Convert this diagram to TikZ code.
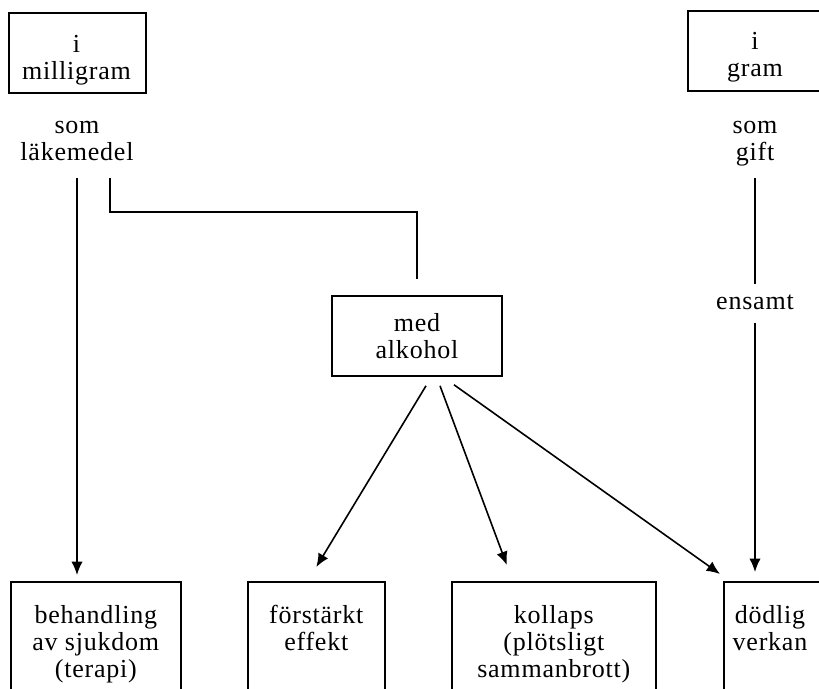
\documentclass[tikz,border=0pt]{standalone}
\usepackage{fontspec}
\setmainfont[LetterSpace=3]{Liberation Serif}
\usetikzlibrary{arrows.meta,calc}
\begin{document}
\begin{tikzpicture}[x=0.75pt,y=-0.75pt,
  every node/.style={font=\fontsize{19.5}{20.25}\selectfont},
  box/.style={draw, line width=1.2pt, inner sep=0pt, align=center},
  txt/.style={inner sep=0pt, align=center},
  conn/.style={line width=1.2pt},
  arr/.style={conn, -{Latex[length=10pt,width=8.5pt]}}]
\useasboundingbox (0,0) rectangle (819,689);
\clip (0,0) rectangle (819,689);
% top boxes and labels
\node[box, anchor=north west, minimum width=102.75pt, minimum height=60pt] (mg) at (8,12) {};
\node[txt, anchor=north] (mgt) at (76.5,35) {i\\milligram};
\node[box, anchor=north west, minimum width=112pt, minimum height=60pt] (gr) at (687,10) {};
\node[txt, anchor=north] (grt) at (755,32) {i\\gram};
\node[txt, anchor=north] (slm) at (77,121) {som\\läkemedel};
\node[txt, anchor=north] (sg) at (755,121) {som\\gift};
\node[txt, anchor=base] (ens) at (755,309) {ensamt};
\node[box, minimum width=127.5pt, minimum height=60pt] (med) at (417,336) {med\\alkohol};
% bottom boxes
\node[box, anchor=north west, minimum width=127.5pt, minimum height=105pt] (b1) at (10,581) {};
\node[box, anchor=north west, minimum width=102.75pt, minimum height=105pt] (b2) at (247,581) {};
\node[box, anchor=north west, minimum width=153pt, minimum height=105pt] (b3) at (451,581) {};
\node[box, anchor=north west, minimum width=105pt, minimum height=105pt] (b4) at (723,581) {};
\node[txt, anchor=north] (t1) at ([yshift=-18pt]b1.north) {behandling\\av sjukdom\\(terapi)};
\node[txt, anchor=north] (t2) at ([yshift=-18pt]b2.north) {förstärkt\\effekt};
\node[txt, anchor=north] (t3) at ([yshift=-18pt]b3.north) {kollaps\\(plötsligt\\sammanbrott)};
\node[txt, anchor=north] (t4) at ([xshift=35.25pt,yshift=-18pt]b4.north west) {dödlig\\verkan};
% connectors
\draw[arr, shorten <=12.75pt, shorten >=4.5pt] (slm.south) -- (slm.south |- b1.north);
\draw[conn] ([xshift=24.75pt,yshift=-12.75pt]slm.south) -- ++(0,34) -| ([yshift=12pt]med.north);
\draw[conn, shorten <=9pt, shorten >=7.5pt] (sg.south) -- (ens.north);
\draw[arr, shorten <=10pt, shorten >=6.75pt] (ens.south) -- (ens.south |- b4.north);
\draw[arr] ([xshift=6.75pt,yshift=-6.75pt]med.south) -- ([yshift=10.5pt]b2.north);
\draw[arr] ([xshift=17.25pt,yshift=-6.75pt]med.south) -- ([xshift=-35.25pt,yshift=12pt]b3.north);
\draw[arr] ([xshift=27.75pt,yshift=-6pt]med.south) -- ([xshift=-2.25pt,yshift=5.25pt]b4.north west);
\end{tikzpicture}
\end{document}
